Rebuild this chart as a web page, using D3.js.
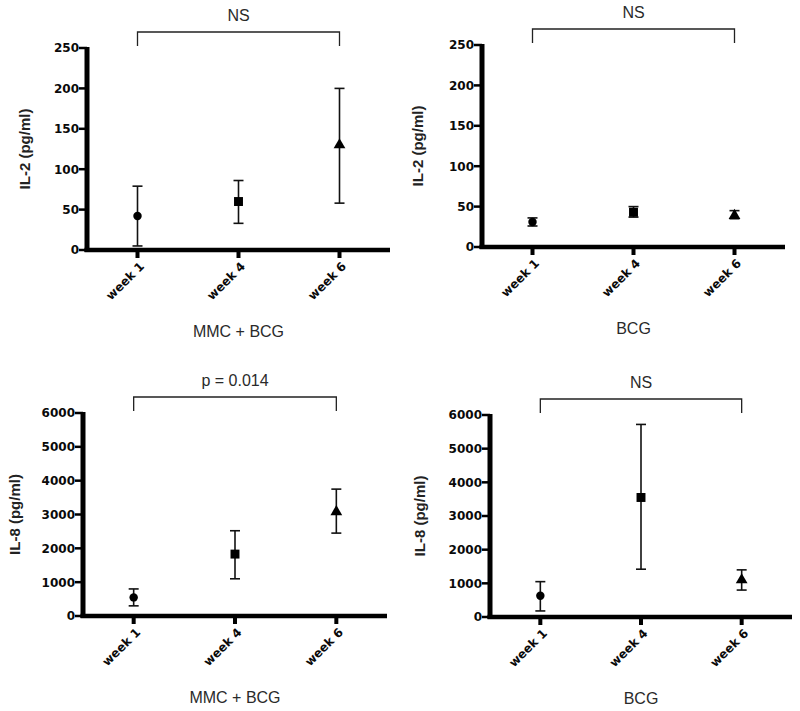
<!DOCTYPE html>
<html>
<head>
<meta charset="utf-8">
<script src="https://cdn.jsdelivr.net/npm/d3@7"></script>
<style>
  body { margin: 0; background: #fff; }
  svg { display: block; font-family: "Liberation Sans", Arial, sans-serif; }
  .axis .tick text { fill: #0a0a0a; font-size: 12px; font-weight: bold; font-family: "DejaVu Sans", sans-serif; }
</style>
</head>
<body>
<div id="chart"></div>
<script>
// DATA

var weeks = ["week 1", "week 4", "week 6"];

var il2Ticks = [0, 50, 100, 150, 200, 250];
var il8Ticks = [0, 1000, 2000, 3000, 4000, 5000, 6000];

// IL-2, MMC + BCG
var il2MmcMean = [42, 60, 130];
var il2MmcLow = [5, 33, 58];
var il2MmcHigh = [79, 86, 200];

// IL-2, BCG
var il2BcgMean = [31, 43, 39];
var il2BcgLow = [26, 37, 35];
var il2BcgHigh = [36, 50, 45];

// IL-8, MMC + BCG
var il8MmcMean = [550, 1830, 3080];
var il8MmcLow = [300, 1100, 2450];
var il8MmcHigh = [800, 2520, 3750];

// IL-8, BCG
var il8BcgMean = [630, 3550, 1100];
var il8BcgLow = [180, 1420, 800];
var il8BcgHigh = [1050, 5720, 1400];

var shapes = [d3.symbolCircle, d3.symbolSquare, d3.symbolTriangle];
var shapeSize = [56, 80, 60];

// PANELS (layout on the page)

var panels = [
  { left: 87, right: 390, bottom: 250, top: 48, ticks: il2Ticks, label: "IL-2 (pg/ml)", labelOff: 62,
    group: "MMC + BCG", stat: "NS", mean: il2MmcMean, low: il2MmcLow, high: il2MmcHigh },
  { left: 482, right: 785, bottom: 247, top: 45, ticks: il2Ticks, label: "IL-2 (pg/ml)", labelOff: 64,
    group: "BCG", stat: "NS", mean: il2BcgMean, low: il2BcgLow, high: il2BcgHigh },
  { left: 83, right: 387, bottom: 616, top: 413, ticks: il8Ticks, label: "IL-8 (pg/ml)", labelOff: 68,
    group: "MMC + BCG", stat: "p = 0.014", mean: il8MmcMean, low: il8MmcLow, high: il8MmcHigh },
  { left: 490, right: 792, bottom: 617, top: 415, ticks: il8Ticks, label: "IL-8 (pg/ml)", labelOff: 70,
    group: "BCG", stat: "NS", mean: il8BcgMean, low: il8BcgLow, high: il8BcgHigh }
];

var svg = d3.select("#chart")
    .append("svg")
    .attr("width", 800)
    .attr("height", 711);

panels.forEach(drawPanel);

function drawPanel(p) {

    var x = d3.scalePoint()
        .domain(weeks)
        .range([p.left, p.right])
        .padding(0.5);

    var y = d3.scaleLinear()
        .domain([0, d3.max(p.ticks)])
        .range([p.bottom, p.top]);

    var g = svg.append("g");

    // y axis: d3 labels, heavy lines as filled rects
    var ya = g.append("g")
        .attr("class", "axis yaxis")
        .attr("transform", "translate(" + p.left + ",0)")
        .call(d3.axisLeft(y)
            .tickValues(p.ticks)
            .tickFormat(d3.format("d"))
            .tickSize(7)
            .tickSizeOuter(0)
            .tickPadding(1));
    ya.select(".domain").remove();
    ya.selectAll(".tick line").remove();

    ya.selectAll("rect.tk")
        .data(p.ticks)
        .enter().append("rect")
        .attr("class", "tk")
        .attr("x", -8).attr("width", 8)
        .attr("y", function (d) { return y(d) - 1.25; })
        .attr("height", 2.5)
        .attr("fill", "#000");

    ya.append("rect")
        .attr("x", -2.5).attr("width", 5)
        .attr("y", y.range()[1] - 1)
        .attr("height", y.range()[0] - y.range()[1] + 3)
        .attr("fill", "#000");

    // x axis
    var xa = g.append("g")
        .attr("class", "axis xaxis")
        .attr("transform", "translate(0," + p.bottom + ")")
        .call(d3.axisBottom(x).tickSize(7).tickSizeOuter(0));
    xa.select(".domain").remove();
    xa.selectAll(".tick line").remove();
    xa.selectAll(".tick text")
        .attr("x", 0)
        .attr("y", 0)
        .attr("dy", "0.35em")
        .attr("text-anchor", "end")
        .attr("transform", "translate(4,14) rotate(-45)");

    xa.selectAll("rect.tk")
        .data(weeks)
        .enter().append("rect")
        .attr("class", "tk")
        .attr("x", function (d) { return x(d) - 2; })
        .attr("width", 4)
        .attr("y", 0).attr("height", 8)
        .attr("fill", "#000");

    xa.append("rect")
        .attr("x", p.left - 2.5)
        .attr("width", x.range()[1] - p.left + 2.5)
        .attr("y", -2.25).attr("height", 4.5)
        .attr("fill", "#000");

    // y axis title
    g.append("text")
        .attr("transform", "translate(" + (p.left - p.labelOff) + "," + ((p.top + p.bottom) / 2) + ") rotate(-90)")
        .attr("text-anchor", "middle")
        .attr("dy", "0.35em")
        .attr("fill", "#222")
        .style("font-size", "15px")
        .style("font-weight", "bold")
        .text(p.label);

    // group title under the axis
    g.append("text")
        .attr("x", x(weeks[1]))
        .attr("y", p.bottom + 87)
        .attr("text-anchor", "middle")
        .attr("fill", "#2a2a2a")
        .style("font-size", "16px")
        .text(p.group);

    // significance bracket
    var bx1 = x(weeks[0]), bx2 = x(weeks[2]);
    var bTop = p.top - 16, bBot = p.top - 2;
    g.append("path")
        .attr("d", "M" + bx1 + "," + bBot + "V" + bTop + "H" + bx2 + "V" + bBot)
        .attr("fill", "none")
        .attr("stroke", "#222")
        .attr("stroke-width", 1.3);
    g.append("text")
        .attr("x", (bx1 + bx2) / 2)
        .attr("y", bTop - 11)
        .attr("text-anchor", "middle")
        .attr("fill", "#2a2a2a")
        .style("font-size", "16px")
        .text(p.stat);

    // error bars
    weeks.forEach(function (w, i) {
        var cx = x(w);
        g.append("line")
            .attr("x1", cx).attr("x2", cx)
            .attr("y1", y(p.low[i])).attr("y2", y(p.high[i]))
            .attr("stroke", "#111").attr("stroke-width", 1.6);
        [p.low[i], p.high[i]].forEach(function (v) {
            g.append("line")
                .attr("x1", cx - 5).attr("x2", cx + 5)
                .attr("y1", y(v)).attr("y2", y(v))
                .attr("stroke", "#111").attr("stroke-width", 1.6);
        });
        g.append("path")
            .attr("d", d3.symbol().type(shapes[i]).size(shapeSize[i]))
            .attr("transform", "translate(" + cx + "," + y(p.mean[i]) + ")")
            .attr("fill", "#000");
    });
}
</script>
</body>
</html>
